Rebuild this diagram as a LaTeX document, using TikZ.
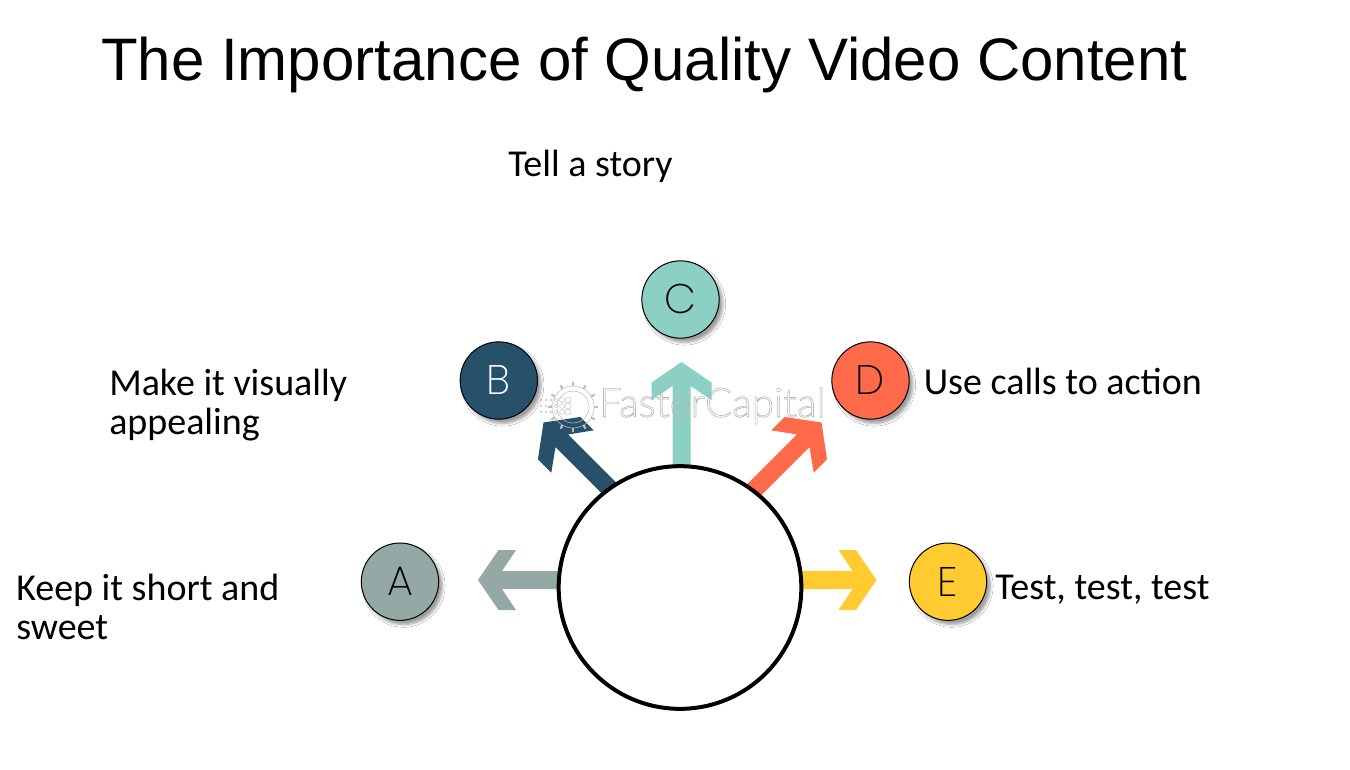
\documentclass[tikz,border=0pt]{standalone}
\usepackage{fontspec}
\setmainfont{Carlito}
\newfontfamily\titlefont{Liberation Sans}
\newfontfamily\letterfont[UprightFont=*-ExtraLight]{Poppins}
\newfontfamily\markfont[UprightFont=*-Light]{Lato}
\usetikzlibrary{shadows.blur}
\definecolor{slateA}{HTML}{94A9A5}
\definecolor{navyB}{HTML}{27506B}
\definecolor{mintC}{HTML}{8CCFC3}
\definecolor{coralD}{HTML}{FF6B4A}
\definecolor{amberE}{HTML}{FFCB30}
\definecolor{markgray}{HTML}{BDBDBD}
\tikzset{
  px/.style={x=0.75pt,y=-0.75pt},
  disc/.style={circle,draw=black,line width=0.75pt,minimum size=58pt,inner sep=0pt,
    text=black,font=\letterfont\fontsize{31}{31}\selectfont,
    blur shadow={shadow xshift=2.8pt,shadow yshift=-3.2pt,shadow blur steps=6,
      shadow blur radius=2pt,shadow opacity=38}},
  label/.style={inner sep=0pt,font=\fontsize{28.5}{29.25}\selectfont,align=left,text=black},
  pics/bigarrow/.style n args={2}{code={
    \fill[#1] (0,0) -- (-20.5,30) -- (-38,30) -- (-24,9) -- (-#2,9)
      -- (-#2,-9) -- (-24,-9) -- (-38,-30) -- (-20.5,-30) -- cycle;
  }},
}
\begin{document}
\begin{tikzpicture}[px]
\useasboundingbox (0,0) rectangle (1350,769);
\fill[white] (0,0) rectangle (1350,769);

% Heading
\node[anchor=base west,inner sep=0pt,font=\titlefont\fontsize{45}{46}\selectfont] (title) at (101,80)
  {The Importance of Quality Video Content};

% Five arrows, each with its tip at the given point; tails run under the hub
\pic[rotate=180] at (478,580) {bigarrow={slateA}{90}};
\pic[rotate=135,xscale=1.08] at (543.5,422.5) {bigarrow={navyB}{100}};
\pic[rotate=90] at (681.5,362) {bigarrow={mintC}{120}};
\pic[rotate=45,xscale=1.08] at (821.5,422.5) {bigarrow={coralD}{100}};
\pic at (876.5,580) {bigarrow={amberE}{90}};

% Central hub
\node[circle,draw=black,fill=white,line width=3pt,minimum size=182pt,inner sep=0pt] (hub) at (680,587.5) {};

% Lettered discs
\node[disc,fill=slateA] (a) at (400,581.7) {A};
\node[disc,fill=navyB,text=white] (b) at (498.8,380.5) {\raisebox{1.5pt}{B}};
\node[disc,fill=mintC] (c) at (680.5,299.5) {\raisebox{1pt}{C}};
\node[disc,fill=coralD] (d) at (870.5,380.5) {\raisebox{1.5pt}{D}};
\node[disc,fill=amberE] (e) at (948,581.7) {E};

% Captions
\node[label,anchor=base west] (tc) at (508,176) {Tell a story};
\node[label,anchor=west] (tb) at (109,405) {Make it visually\\appealing};
\node[label,anchor=base west] (td) at (923.5,394.5) {Use calls to action};
\node[label,anchor=west] (ta) at (16,606.5) {Keep it short and\\sweet};
\node[label,anchor=base west] (te) at (995,599) {Test, test, test};

% FasterCapital mark: outlined lettering and a small gear
\node[inner sep=0pt,anchor=base west,text=markgray,font=\markfont\fontsize{30.3}{31}\selectfont] (mark) at (599,417)
  {\special{pdf:code 1 Tr 0.45 w 0.72 G}FasterCapital\special{pdf:code 0 Tr}};
\foreach \a in {0,30,...,330}
  \draw[markgray,line width=1.6pt] (573,407) ++(\a:21) -- ++(\a:4);
\draw[markgray,line width=0.4pt] (573,407) circle[radius=21];
\draw[markgray,line width=0.4pt] (573,407) circle[radius=16];
\foreach \x/\n in {541/0.8,546/0.8,551/1.2,556/1.8,562/2.4,568/3}
  \foreach \y in {-1,0,1}
    \draw[markgray,line width=0.3pt] (\x,406+\y*6) circle[radius=\n];
\end{tikzpicture}
\end{document}
